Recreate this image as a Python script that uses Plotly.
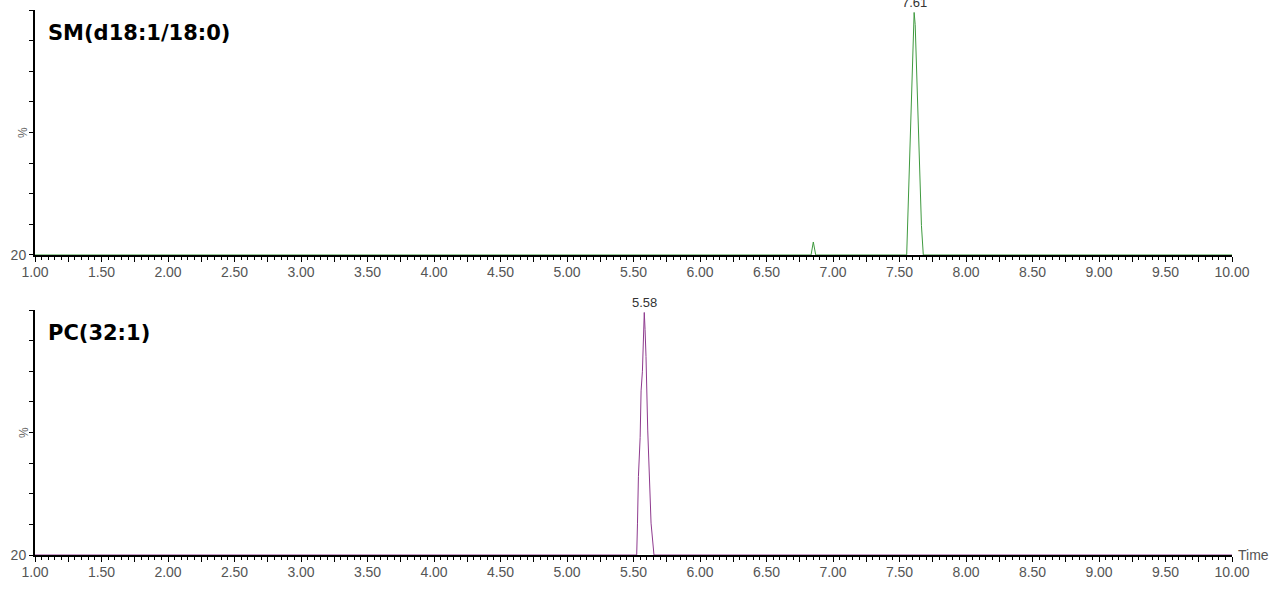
"""Two stacked LC-MS chromatograms (SM and PC) in MassLynx style."""
import numpy as np
import plotly.graph_objects as go

# SM(d18:1/18:0): retention time (min) vs relative intensity (%)
sm_time = [1.00, 6.835, 6.852, 6.870, 7.554, 7.566, 7.578, 7.590, 7.600, 7.610,
           7.618, 7.628, 7.640, 7.652, 7.665, 7.679, 10.00]
sm_int = [0, 0, 5.3, 0, 0, 22, 48, 72, 90, 99, 94, 78, 55, 33, 12, 0, 0]

# PC(32:1)
pc_time = [1.00, 5.524, 5.530, 5.537, 5.550, 5.557, 5.567, 5.574, 5.581, 5.587,
           5.594, 5.607, 5.617, 5.632, 5.654, 10.00]
pc_int = [0, 0, 13, 32, 48, 67, 75, 95, 99, 92, 81, 51, 35, 13, 0, 0]

panel_names = ["SM(d18:1/18:0)", "PC(32:1)"]
apex_times = [7.61, 5.58]
apex_labels = ["7.61", "5.58"]
line_colors = ["#3f9a3f", "#8e3a8e"]

major_vals = np.arange(1.0, 10.001, 0.25)
major_text = [f"{v:.2f}" if abs((v * 2) - round(v * 2)) < 1e-9 else "" for v in major_vals]
y_vals = [0, 12.5, 25, 37.5, 50, 62.5, 75, 87.5, 100]
y_text = ["20", "", "", "", "", "", "", "", ""]

fig = go.Figure()
series = [(sm_time, sm_int), (pc_time, pc_int)]
for i, (t, y) in enumerate(series):
    suffix = "" if i == 0 else "2"
    fig.add_trace(go.Scatter(
        x=t, y=y, mode="lines",
        line=dict(color=line_colors[i], width=1),
        xaxis="x" + suffix, yaxis="y" + suffix,
        showlegend=False, hoverinfo="skip",
    ))

domains = [[0.5505, 1.0], [0.0, 0.4495]]
tick_font = dict(family="Liberation Sans, Arial, sans-serif", size=14, color="#555")
for i in range(2):
    suffix = "" if i == 0 else "2"
    fig.layout["xaxis" + suffix] = dict(
        domain=[0, 1], anchor="y" + suffix, range=[1.0, 10.0],
        showgrid=False, zeroline=False,
        showline=True, linecolor="black", linewidth=2,
        ticks="outside", ticklen=5, tickwidth=1, tickcolor="black",
        tickvals=list(major_vals), ticktext=major_text,
        minor=dict(dtick=0.05, tick0=1.0, ticklen=3, ticks="outside",
                   tickcolor="black", showgrid=False),
        tickfont=tick_font, ticklabelstandoff=-2,
    )
    fig.layout["yaxis" + suffix] = dict(
        domain=domains[i], anchor="x" + suffix, range=[0, 100],
        showgrid=False, zeroline=False,
        showline=True, linecolor="black", linewidth=2,
        ticks="outside", ticklen=4, tickwidth=1, tickcolor="black",
        tickvals=y_vals, ticktext=y_text,
        tickfont=tick_font,
    )

annotations = []
for i in range(2):
    suffix = "" if i == 0 else "2"
    annotations.append(dict(
        text=panel_names[i], xref="paper", yref="y" + suffix + " domain",
        x=0.009, y=0.906, xanchor="left", yanchor="middle", showarrow=False,
        font=dict(family="DejaVu Sans, Verdana, sans-serif", size=21, color="black",
                  weight="bold"),
    ))
    annotations.append(dict(
        text=apex_labels[i], xref="x" + suffix, yref="y" + suffix,
        x=apex_times[i], y=99, xanchor="center", yanchor="bottom", showarrow=False,
        font=dict(family="Liberation Sans, Arial, sans-serif", size=13, color="#333"),
    ))
    annotations.append(dict(
        text="%", xref="paper", yref="y" + suffix, textangle=-90,
        x=-0.002, y=50, xanchor="right", yanchor="middle", showarrow=False,
        font=dict(family="Liberation Sans, Arial, sans-serif", size=12, color="#666"),
    ))
annotations.append(dict(
    text="Time", xref="paper", yref="y2",
    x=1.003, y=0, xanchor="left", yanchor="middle", showarrow=False,
    font=dict(family="Liberation Sans, Arial, sans-serif", size=14, color="#555"),
))

fig.update_layout(
    width=1280, height=592,
    margin=dict(l=35, r=48, t=10, b=37),
    paper_bgcolor="white", plot_bgcolor="white",
    annotations=annotations,
)

fig.write_html("out.html", config={"displayModeBar": False},
               post_script="document.body.style.margin='0px';")
